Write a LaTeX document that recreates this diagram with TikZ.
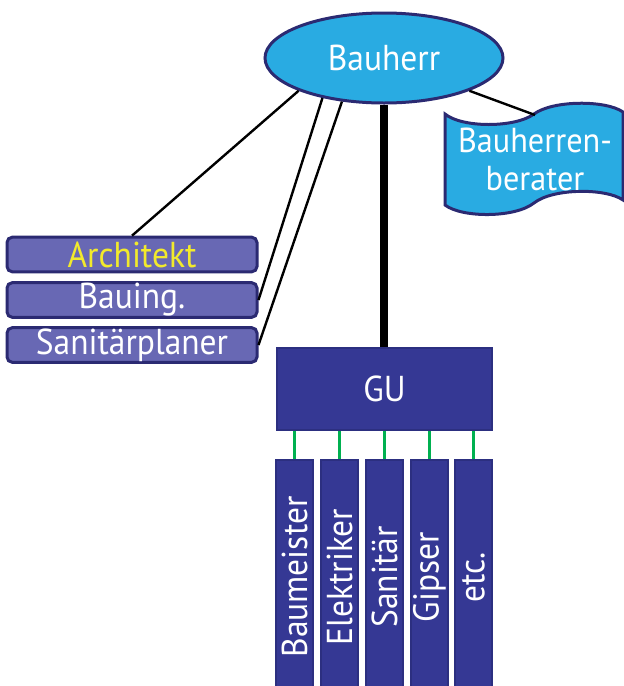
\documentclass[tikz,border=0pt]{standalone}
\usepackage{fontspec}
\setmainfont{PT Sans}[FakeStretch=0.93]
\usetikzlibrary{shapes.geometric}
\definecolor{sky}{HTML}{29ABE2}
\definecolor{navy}{HTML}{2B2A72}
\definecolor{lavender}{HTML}{6868B4}
\definecolor{deepblue}{HTML}{353894}
\definecolor{gublue}{HTML}{2C2F80}
\definecolor{linkgreen}{HTML}{00B050}
\definecolor{yel}{HTML}{F2EA2C}
\tikzset{
  lbl/.style={font=\fontsize{27}{30}\selectfont, text=white},
  oval/.style={ellipse, draw=navy, line width=2.25pt, fill=sky, inner sep=0pt,
    minimum width=178.5pt, minimum height=67.5pt, lbl},
  planer/.style={rectangle, rounded corners=4pt, draw=navy, line width=2.25pt,
    fill=lavender, inner sep=0pt, minimum width=187.5pt, minimum height=26pt, lbl},
  firm/.style={rectangle, draw=gublue, line width=1.5pt, fill=deepblue,
    inner sep=0pt, lbl},
  trade/.style={firm, rotate=90, minimum width=176pt, minimum height=27.75pt},
  link/.style={draw=black, line width=1.8pt},
  mainlink/.style={draw=black, line width=6pt},
  sublink/.style={draw=linkgreen, line width=2pt}
}
\begin{document}
\begin{tikzpicture}[x=0.75pt, y=-0.75pt]
\useasboundingbox (0,0) rectangle (624,686);
\clip (0,0) rectangle (624,686);

% client
\node[oval] (bh) at (384,58) {Bauherr};

% client's advisor (tape shape)
\draw[navy, line width=2.25pt, fill=sky]
  (445,114) .. controls (462,128) and (515,128) .. (534,114)
  .. controls (553,100) and (606,100) .. (623,112)
  -- (623,200) .. controls (606,188) and (553,188) .. (534,203)
  .. controls (515,218) and (462,218) .. (445,205) -- cycle;
\node[lbl, align=center, font=\fontsize{26}{28.5}\selectfont] (ber) at (535,159) {Bauherren-\\berater};
\coordinate (bertop) at (535,115);

% planners
\node[planer, text=yel] (arch) at (132,254.5) {Architekt};
\node[planer] (ing) at (132,300) {Bauing.};
\node[planer] (san) at (132,345) {Sanitärplaner};

% general contractor
\node[firm, minimum width=161.25pt, minimum height=61.5pt] (gu) at (384.5,389) {GU};

% trades
\node[trade] (t1) at (294.5,577) {Baumeister};
\node[trade] (t2) at (339.5,577) {Elektriker};
\node[trade] (t3) at (384.5,577) {Sanitär};
\node[trade] (t4) at (429.5,577) {Gipser};
\node[trade] (t5) at (473.5,577) {etc.};

% connections
\draw[link] (bh.201) -- (arch.north);
\draw[link] (bh.213) -- (ing.east);
\draw[link] (bh.226) -- (san.east);
\draw[link] (bh.339) -- (bertop);
\draw[mainlink] (bh.south) -- (bh.south |- gu.north);
\foreach \t in {t1,t2,t3,t4,t5}
  \draw[sublink] (\t.east |- gu.south) -- (\t.east);
\end{tikzpicture}
\end{document}
